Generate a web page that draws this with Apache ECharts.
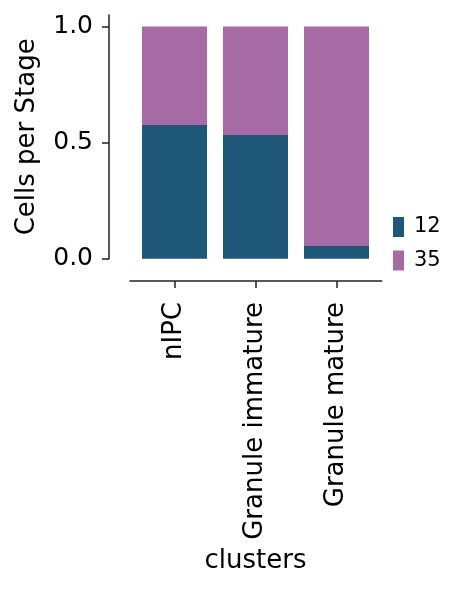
<!DOCTYPE html>
<html>
<head>
<meta charset="utf-8">
<script src="https://cdn.jsdelivr.net/npm/echarts@6/dist/echarts.min.js"></script>
<style>html,body{margin:0;padding:0;background:#fff}#c{width:457px;height:591px}</style>
</head>
<body>
<div id="c"></div>
<script>
const categories = ['nIPC', 'Granule immature', 'Granule mature'];
const seriesNames = ['12', '35'];
const values12 = [0.576, 0.533, 0.055];
const values35 = [0.424, 0.467, 0.945];
const yTicks = [0, 0.5, 1.0];
const colors = ['#1f5778', '#a66aa4'];

const FONT = 'DejaVu Sans';
const chart = echarts.init(document.getElementById('c'), null, {renderer: 'canvas'});
const gridTop = 15, gridBottom = 591 - 258.7;
chart.setOption({
  animation: false,
  backgroundColor: '#fff',
  textStyle: {fontFamily: FONT},
  grid: [
    {left: 134, width: 243, top: gridTop, bottom: gridBottom},
    {left: 130, width: 251.7, top: gridTop, bottom: gridBottom}
  ],
  legend: {
    orient: 'vertical', left: 393, top: 216.5, padding: 0,
    itemWidth: 11, itemHeight: 20, itemGap: 12.5,
    icon: 'rect',
    data: seriesNames,
    textStyle: {fontSize: 21, color: '#000', fontFamily: FONT, padding: [0,0,0,5]}
  },
  xAxis: [
    {
      type: 'category', gridIndex: 0, data: categories, offset: 22.3,
      axisLine: {show: false, onZero: false},
      axisTick: {show: true, alignWithLabel: true, length: 7, lineStyle: {color: '#222', width: 1.5}},
      axisLabel: {rotate: 90, fontSize: 26, color: '#000', fontFamily: FONT, margin: 21, interval: 0},
      name: 'clusters', nameLocation: 'middle', nameGap: 267, nameMoveOverlap: false,
      nameTextStyle: {fontSize: 26, color: '#000', fontFamily: FONT}
    },
    {
      type: 'value', gridIndex: 1, min: 0, max: 1, offset: 22.3,
      axisLine: {show: true, onZero: false, lineStyle: {color: '#222', width: 1.5}},
      axisTick: {show: false}, axisLabel: {show: false}, splitLine: {show: false}
    }
  ],
  yAxis: [
    {
      type: 'value', gridIndex: 0, min: 0, max: 1.05, offset: 25,
      axisLine: {show: true, onZero: false, lineStyle: {color: '#222', width: 1.5}},
      axisTick: {show: true, length: 7, customValues: yTicks, lineStyle: {color: '#222', width: 1.5}},
      axisLabel: {customValues: yTicks, fontSize: 25, color: '#000', fontFamily: FONT, margin: 16,
        formatter: v => v.toFixed(1)},
      splitLine: {show: false},
      name: 'Cells per Stage', nameLocation: 'middle', nameGap: 69, nameRotate: 90, nameMoveOverlap: false,
      nameTextStyle: {fontSize: 26, color: '#000', fontFamily: FONT}
    },
    {type: 'value', gridIndex: 1, show: false, min: 0, max: 1}
  ],
  series: [
    {name: seriesNames[0], type: 'bar', stack: 'a', xAxisIndex: 0, yAxisIndex: 0, data: values12,
      barWidth: 65, itemStyle: {color: colors[0]}},
    {name: seriesNames[1], type: 'bar', stack: 'a', xAxisIndex: 0, yAxisIndex: 0, data: values35,
      barWidth: 65, itemStyle: {color: colors[1]}}
  ]
});
</script>
</body>
</html>
